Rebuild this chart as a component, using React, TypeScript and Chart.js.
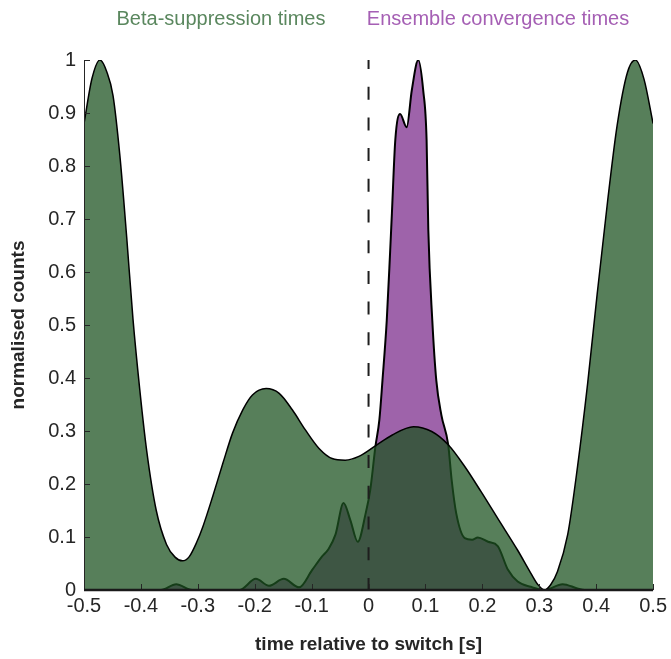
import { useEffect, useRef } from 'react';
import { Chart, registerables } from 'chart.js';

Chart.register(...registerables);

// Beta-suppression times density (normalised)
const betaX = [
  -0.5, -0.486, -0.472, -0.46, -0.449, -0.437, -0.425, -0.414, -0.402, -0.39,
  -0.373, -0.355, -0.34, -0.327, -0.315, -0.302, -0.291, -0.274, -0.256, -0.239, -0.221,
  -0.204, -0.18, -0.157, -0.134, -0.111, -0.087, -0.064, -0.041, -0.017, 0.012,
  0.041, 0.079, 0.111, 0.14, 0.169, 0.198, 0.227, 0.262, 0.285, 0.297,
  0.309, 0.32, 0.332, 0.35, 0.367, 0.385, 0.402, 0.42, 0.437, 0.455,
  0.469, 0.484, 0.5,
];
const betaY = [
  0.88, 0.965, 1.0, 0.978, 0.933, 0.82, 0.666, 0.512, 0.378, 0.264,
  0.15, 0.086, 0.062, 0.055, 0.063, 0.09, 0.12, 0.176, 0.239, 0.296, 0.34,
  0.368, 0.38, 0.371, 0.34, 0.302, 0.267, 0.248, 0.245, 0.252, 0.272,
  0.292, 0.308, 0.299, 0.274, 0.233, 0.185, 0.135, 0.075, 0.032, 0.011,
  0.0, 0.01, 0.035, 0.105, 0.231, 0.39, 0.561, 0.733, 0.878, 0.977,
  1.0, 0.964, 0.88,
];

// Ensemble convergence times density (normalised)
const ensX = [
  -0.5, -0.365, -0.338, -0.31, -0.227, -0.198, -0.175, -0.149, -0.122, -0.099,
  -0.082, -0.07, -0.058, -0.044, -0.032, -0.019, -0.005, 0.003, 0.012, 0.019,
  0.0245, 0.032, 0.038, 0.041, 0.047, 0.0554, 0.067, 0.076, 0.0874, 0.096,
  0.102, 0.105, 0.112, 0.119, 0.128, 0.14, 0.146, 0.154, 0.169, 0.182,
  0.192, 0.21, 0.227, 0.245, 0.262, 0.285, 0.309, 0.341, 0.367, 0.38, 0.5,
];
const ensY = [
  0, 0, 0.011, 0, 0, 0.021, 0.008, 0.021, 0.005, 0.038,
  0.063, 0.078, 0.105, 0.164, 0.132, 0.091, 0.145, 0.189, 0.27, 0.321,
  0.396, 0.509, 0.64, 0.71, 0.849, 0.898, 0.873, 0.943, 1.0, 0.943,
  0.849, 0.68, 0.509, 0.396, 0.33, 0.274, 0.208, 0.145, 0.098, 0.095,
  0.099, 0.091, 0.083, 0.038, 0.016, 0.006, 0, 0.011, 0.003, 0, 0,
];

const seriesNames = ['Beta-suppression times', 'Ensemble convergence times'];
const xTicks = [-0.5, -0.4, -0.3, -0.2, -0.1, 0, 0.1, 0.2, 0.3, 0.4, 0.5];
const xTickLabels = ['-0.5', '-0.4', '-0.3', '-0.2', '-0.1', '0', '0.1', '0.2', '0.3', '0.4', '0.5'];
const yTicks = [0, 0.1, 0.2, 0.3, 0.4, 0.5, 0.6, 0.7, 0.8, 0.9, 1];
const yTickLabels = ['0', '0.1', '0.2', '0.3', '0.4', '0.5', '0.6', '0.7', '0.8', '0.9', '1'];
const switchTime = 0;
const xTitle = 'time relative to switch [s]';
const yTitle = 'normalised counts';

const FONT = "'Liberation Sans', Arial, Helvetica, sans-serif";
const TEXT = '#262626';

const axesPlugin = {
  id: 'matlabAxes',
  afterDatasetsDraw(chart: any) {
    const { ctx, chartArea, scales } = chart;
    const { left, right, top, bottom } = chartArea;
    const xs = scales.x;
    const ys = scales.y;
    ctx.save();
    // switch marker
    const x0 = xs.getPixelForValue(switchTime);
    ctx.strokeStyle = '#1e1e1e';
    ctx.lineWidth = 2;
    ctx.setLineDash([13, 17.7]);
    ctx.lineDashOffset = 4;
    ctx.beginPath();
    ctx.moveTo(x0, ys.getPixelForValue(1));
    ctx.lineTo(x0, ys.getPixelForValue(0));
    ctx.stroke();
    ctx.setLineDash([]);
    // y axis
    ctx.strokeStyle = TEXT;
    ctx.lineWidth = 1;
    ctx.beginPath();
    ctx.moveTo(left + 0.5, top);
    ctx.lineTo(left + 0.5, bottom);
    ctx.stroke();
    for (const v of yTicks) {
      const py = Math.round(ys.getPixelForValue(v)) + 0.5;
      ctx.beginPath();
      ctx.moveTo(left, py);
      ctx.lineTo(left + 6, py);
      ctx.stroke();
    }
    for (const v of xTicks) {
      const px = Math.round(xs.getPixelForValue(v)) + 0.5;
      ctx.beginPath();
      ctx.moveTo(px, bottom);
      ctx.lineTo(px, bottom - 6);
      ctx.stroke();
    }
    // x axis
    ctx.strokeStyle = '#1a1a1a';
    ctx.lineWidth = 2.5;
    ctx.beginPath();
    ctx.moveTo(left, bottom);
    ctx.lineTo(right, bottom);
    ctx.stroke();
    ctx.restore();
  },
  afterDraw(chart: any) {
    const { ctx } = chart;
    ctx.save();
    ctx.font = `20px ${FONT}`;
    ctx.textAlign = 'center';
    ctx.textBaseline = 'middle';
    ctx.fillStyle = '#5a875e';
    ctx.fillText(seriesNames[0], 221, 19);
    ctx.fillStyle = '#a55fb4';
    ctx.fillText(seriesNames[1], 498, 19);
    ctx.restore();
  },
};

export default function App() {
  const ref = useRef<HTMLCanvasElement | null>(null);
  useEffect(() => {
    if (!ref.current) return;
    const chart = new Chart(ref.current, {
      type: 'line',
      data: {
        datasets: [
          {
            label: seriesNames[0],
            data: betaX.map((x, i) => ({ x, y: betaY[i] })),
            borderColor: '#000000',
            borderWidth: 1.5,
            backgroundColor: 'rgba(29,82,33,0.74)',
            fill: 'origin',
            pointRadius: 0,
            cubicInterpolationMode: 'monotone',
            order: 0,
          },
          {
            label: seriesNames[1],
            data: ensX.map((x, i) => ({ x, y: ensY[i] })),
            borderColor: '#000000',
            borderWidth: 2,
            backgroundColor: '#9e63aa',
            fill: 'origin',
            pointRadius: 0,
            cubicInterpolationMode: 'monotone',
            order: 1,
          },
        ],
      },
      options: {
        responsive: false,
        animation: false,
        events: [],
        layout: { padding: { top: 60, right: 16, left: 0, bottom: 0 } },
        plugins: { legend: { display: false }, tooltip: { enabled: false } },
        scales: {
          x: {
            type: 'linear',
            min: -0.5,
            max: 0.5,
            afterBuildTicks: (s: any) => { s.ticks = xTicks.map((v) => ({ value: v })); },
            afterFit: (s: any) => { s.height = 69; },
            grid: { display: false, drawTicks: false },
            border: { display: false },
            ticks: {
              autoSkip: false,
              maxRotation: 0,
              padding: 4,
              color: TEXT,
              font: { family: FONT, size: 20 },
              callback: (_v: any, i: number) => xTickLabels[i],
            },
            title: {
              display: true,
              text: xTitle,
              color: TEXT,
              font: { family: FONT, size: 19, weight: 'bold' },
              padding: { top: 0, bottom: 3 },
            },
          },
          y: {
            type: 'linear',
            min: 0,
            max: 1,
            afterBuildTicks: (s: any) => { s.ticks = yTicks.map((v) => ({ value: v })); },
            afterFit: (s: any) => { s.width = 84; },
            grid: { display: false, drawTicks: false },
            border: { display: false },
            ticks: {
              autoSkip: false,
              padding: 8,
              color: TEXT,
              font: { family: FONT, size: 20 },
              callback: (_v: any, i: number) => yTickLabels[i],
            },
            title: {
              display: true,
              text: yTitle,
              color: TEXT,
              font: { family: FONT, size: 19, weight: 'bold' },
              padding: { top: 7, bottom: 0 },
            },
          },
        },
      },
      plugins: [axesPlugin],
    });
    return () => chart.destroy();
  }, []);
  return (
    <div style={{ position: 'absolute', left: 0, top: 0, width: 671, height: 659 }}>
      <canvas ref={ref} width={671} height={659} style={{ display: 'block' }} />
    </div>
  );
}
